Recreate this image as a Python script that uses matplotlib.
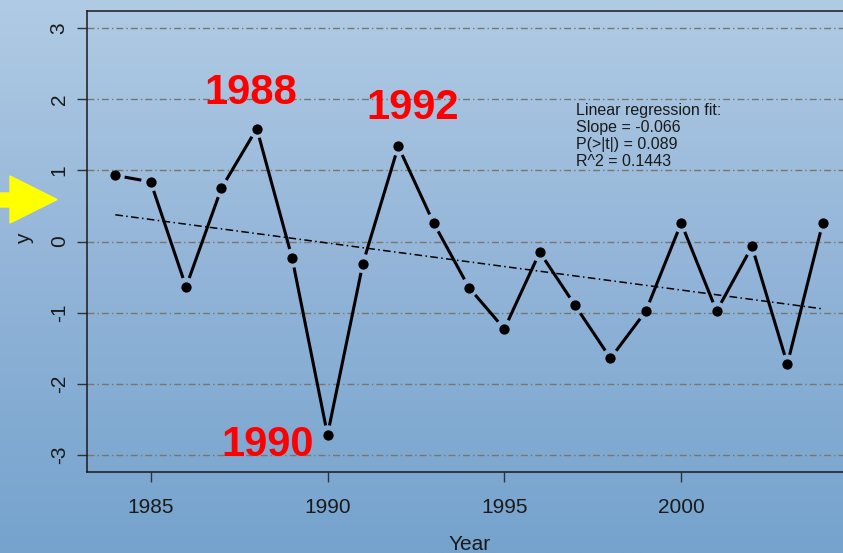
import matplotlib
matplotlib.use("Agg")
import matplotlib.pyplot as plt
from matplotlib.colors import LinearSegmentedColormap
from matplotlib.patches import Polygon
import numpy as np

plt.rcParams['font.family'] = ['Liberation Sans', 'DejaVu Sans']
plt.rcParams['axes.unicode_minus'] = False

# yearly index values
years = np.arange(1984, 2005)
y = [0.93, 0.84, -0.64, 0.75, 1.59, -0.235, -2.72, -0.31, 1.34, 0.26,
     -0.65, -1.23, -0.15, -0.90, -1.645, -0.98, 0.26, -0.98, -0.07, -1.725, 0.26]

xticks = [1985, 1990, 1995, 2000]
yticks = [-3, -2, -1, 0, 1, 2, 3]
highlight = {1988: (-6, 36), 1990: (-60, -10), 1992: (14, 38)}
fit_text = ["Linear regression fit:", "Slope = -0.066",
            "P(>|t|) = 0.089", "R^2 = 0.1443"]

W, H = 843, 553
fig = plt.figure(figsize=(W / 100, H / 100), dpi=100)

# vertical gradient background
bg = fig.add_axes([0, 0, 1, 1], zorder=-10)
cmap = LinearSegmentedColormap.from_list("bg", ["#75a3cd", "#92b4d8", "#b0cbe4"])
bg.imshow(np.linspace(0, 1, 256)[:, None], aspect="auto", cmap=cmap,
          origin="lower", extent=[0, 1, 0, 1])
bg.set_axis_off()

# yellow pointer on the left
arrow = [(0, 193), (10, 193), (10, 176), (57, 199.5), (10, 223), (10, 207), (0, 207)]
fig.patches.append(Polygon([(px / W, 1 - py / H) for px, py in arrow],
                           closed=True, color="#ffff00", transform=fig.transFigure))

ax = fig.add_axes([87 / W, (H - 471.7) / H, 764 / W, 460.4 / H])
ax.patch.set_alpha(0)
ax.set_xlim(1983.2, 2004.8)
ax.set_ylim(-3.24, 3.24)
fig.canvas.draw()

dotdash = (0, (5, 2.2, 1, 2.2))
for t in yticks:
    ax.axhline(t, color="#77776f", lw=1, linestyle=dotdash, zorder=1)

# line segments stopping short of each point (gap in pixels)
gap = 9.5
pts = ax.transData.transform(np.column_stack([years, y]))
inv = ax.transData.inverted()
for p0, p1 in zip(pts[:-1], pts[1:]):
    d = p1 - p0
    u = d / np.hypot(*d)
    seg = inv.transform(np.array([p0 + u * gap, p1 - u * gap]))
    ax.plot(seg[:, 0], seg[:, 1], color="black", lw=2.2,
            solid_capstyle="butt", zorder=3)
ax.plot(years, y, "o", color="black", ms=7.4, mew=0, zorder=4)

# least squares trend
coef = np.polyfit(years, y, 1)
ax.plot(years, np.polyval(coef, years), color="black", lw=1.1,
        linestyle=dotdash, zorder=2)

for yr, (dx, dy) in highlight.items():
    ax.annotate(str(yr), xy=(yr, y[yr - 1984]), xytext=(dx, dy),
                textcoords="offset pixels", ha="center", va="center",
                color="#ff0000", fontsize=30, fontweight="bold", zorder=5)

for k, line in enumerate(fit_text):
    fig.text(576 / W, 1 - (115 + 16.9 * k) / H, line, fontsize=11.5,
             color="#1a1a1a", ha="left", va="baseline")

ax.set_xticks(xticks)
ax.set_yticks(yticks)
ax.tick_params(axis="both", direction="out", length=7.2, width=1,
               color="#333333", labelsize=15, labelcolor="#1a1a1a")
ax.tick_params(axis="x", pad=11.5)
ax.tick_params(axis="y", pad=6, labelrotation=90)
for lab in ax.get_yticklabels():
    lab.set_va("center")

for side in ["left", "bottom", "top", "right"]:
    ax.spines[side].set_color("#1a1a1a")
    ax.spines[side].set_linewidth(1.1)

fig.text(25 / W, 1 - 239 / H, "y", rotation=90, ha="center", va="center",
         fontsize=15, color="#1a1a1a")
fig.text(470 / W, 1 - 550 / H, "Year", ha="center", va="baseline",
         fontsize=15, color="#1a1a1a")

fig.savefig("out.png", dpi=100)
